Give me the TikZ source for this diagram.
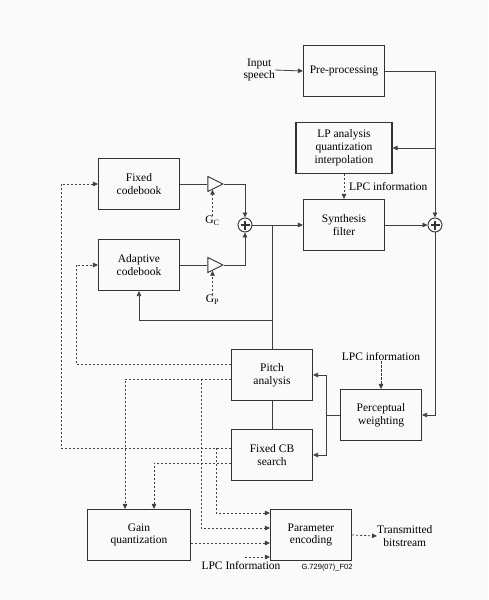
\documentclass[tikz,border=0pt]{standalone}
\usepackage{fontspec}
\setmainfont{Liberation Serif}
\newfontfamily\figfont{Liberation Sans}
\usetikzlibrary{arrows.meta,shapes.geometric,positioning}
\begin{document}
\begin{tikzpicture}[x=1pt,y=-1pt,
  txt/.style={font=\fontsize{11.5}{12.8}\selectfont,align=center,inner sep=0pt},
  block/.style={txt,draw=black!80,line width=1.1pt,minimum width=81pt,minimum height=51pt},
  amp/.style={draw=black!80,line width=0.9pt,isosceles triangle,isosceles triangle stretches,
    minimum width=15pt,minimum height=15pt,inner sep=0pt},
  sum/.style={draw=black!80,line width=0.9pt,circle,minimum size=14pt,inner sep=0pt,
    path picture={\draw[line width=1.1pt]
      ([xshift=-4.5pt]path picture bounding box.center) -- ([xshift=4.5pt]path picture bounding box.center)
      ([yshift=-4.5pt]path picture bounding box.center) -- ([yshift=4.5pt]path picture bounding box.center);}},
  line/.style={draw=black!75,line width=0.8pt},
  arr/.style={line,-{Triangle[length=5pt,width=4.5pt]}},
  ctrl/.style={line,dash pattern=on 2.2pt off 1.8pt},
  darr/.style={ctrl,-{Triangle[length=5pt,width=4.5pt]}}]
  \fill[black!2] (0,0) rectangle (488,600);
  % blocks
  \node[block] (pre) at (344,71) {Pre-processing};
  \node[block,minimum width=96pt] (lp) at (344,148) {LP analysis\\quantization\\interpolation};
  \node[block] (syn) at (344,225) {Synthesis\\filter};
  \node[block] (fcb) at (139,184) {Fixed\\codebook};
  \node[block] (acb) at (139,265) {Adaptive\\codebook};
  \node[block] (pitch) at (272,375) {Pitch\\analysis};
  \node[block] (fcs) at (272,455) {Fixed CB\\search};
  \node[block] (pw) at (381,415) {Perceptual\\weighting};
  \node[block,minimum width=103pt] (gq) at (139,535) {Gain\\quantization};
  \node[block] (pe) at (311,535) {Parameter\\encoding};
  \node[amp] (ampc) at (212.5,184) {};
  \node[amp] (ampp) at (212.5,265) {};
  \node[sum] (s1) at (245,225) {};
  \node[sum] (s2) at (435,225) {};
  % labels
  \node[txt,anchor=east] (in) at (275,70) {Input\\speech};
  \node[txt,anchor=west] (lpc1) at (349,187) {LPC information};
  \node[txt] (gc) at (212.5,221) {G\textsubscript{C}};
  \node[txt] (gp) at (212.5,300) {G\textsubscript{P}};
  \node[txt] (lpc2) at (381,357) {LPC information};
  \node[txt] (lpc3) at (241,566) {LPC Information};
  \node[txt,anchor=west] (tb) at (377,536) {Transmitted\\bitstream};
  \node[font=\figfont\fontsize{7.5}{9}\selectfont,inner sep=0pt] (fig) at (327,568) {G.729(07)\_F02};
  \coordinate (j1) at (272,225);
  \coordinate (j2) at (272,320);
  \coordinate (j3) at (326,415);
  \coordinate (l3) at (245,557);
  % signal path
  \draw[arr] (in.east) -- (pre.west);
  \draw[arr] (pre.east) -| (s2.north);
  \draw[arr] (s2.north |- lp.east) -- (lp.east);
  \draw[darr] (lp.south) -- (syn.north);
  \draw[arr] (syn.east) -- (s2.west);
  \draw[arr] (s2.south) |- (pw.east);
  \draw[line] (fcb.east) -- (ampc.west);
  \draw[line] (acb.east) -- (ampp.west);
  \draw[arr] (ampc.apex) -| (s1.north);
  \draw[arr] (ampp.apex) -| (s1.south);
  \draw[darr] (gc.north) -- (gc.north |- ampc.south);
  \draw[darr] (gp.north) -- (gp.north |- ampp.south);
  \draw[arr] (s1.east) -- (syn.west);
  \draw[line] (j1) -- (pitch.north);
  \draw[arr] (j2) -| (acb.south);
  \draw[line] (pitch.south) -- (fcs.north);
  \draw[darr] (lpc2.south) -- (pw.north);
  \draw[line] (pw.west) -- (j3);
  \draw[arr] (j3) |- (pitch.east);
  \draw[arr] (j3) |- (fcs.east);
  % control paths
  \draw[darr] ([yshift=11pt]pitch.west) -| ([xshift=-22pt]acb.west) -- (acb.west);
  \draw[darr] ([yshift=7pt]fcs.west) -| ([xshift=-37pt]fcb.west) -- (fcb.west);
  \draw[darr] ([yshift=-4pt]pitch.west) -| ([xshift=-14pt]gq.north);
  \draw[darr] ([yshift=-8pt]fcs.west) -| ([xshift=15pt]gq.north);
  \draw[darr] (201,379) |- ([yshift=7pt]pe.west);
  \draw[darr] (216,448) |- ([yshift=22pt]pe.west);
  \draw[darr] ([yshift=-8pt]gq.east) -- ([yshift=-8pt]pe.west);
  \draw[darr] (l3) -- ([yshift=-22pt]pe.west);
  \draw[darr] (pe.east) -- (tb.west);
\end{tikzpicture}
\end{document}
